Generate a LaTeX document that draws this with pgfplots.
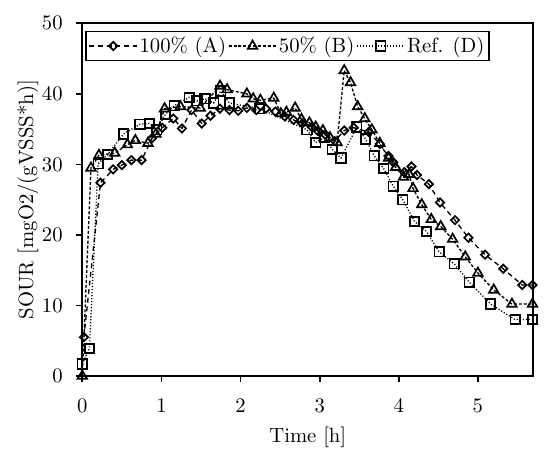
\documentclass[border=0pt]{standalone}
\usepackage{pgfplots}
\pgfplotsset{compat=1.18}
\begin{document}
\begin{tikzpicture}
\begin{axis}[
  name=ax,
  scale only axis,
  width=239.03pt, height=186.93pt,
  xmin=0, xmax=5.7, ymin=0, ymax=50,
  xtick={0,1,2,3,4,5}, ytick={0,10,20,30,40,50},
  tick align=outside, tick pos=left,
  major tick length=3.2pt,
  axis line style={line width=1pt},
  every tick/.style={black, line width=0.9pt},
  /pgf/number format/assume math mode=true,
  ticklabel style={font=\fontsize{10.95}{13}\selectfont},
  label style={font=\fontsize{10.95}{13}\selectfont},
  xticklabel style={yshift=-5.3pt},
  yticklabel style={xshift=-3.7pt},
  xlabel={Time [h]},
  ylabel={SOUR [mgO2/(gVSSS*h)]},
  xlabel style={at={(axis description cs:0.5,-0.173)}, anchor=center},
  ylabel style={at={(axis description cs:-0.1204,0.5)}, anchor=center},
  clip=false,
  legend columns=3,
  legend style={at={(axis description cs:0.006,0.979)}, anchor=north west,
    draw=black, line width=0.9pt, inner sep=1.5pt,
    font=\fontsize{10.95}{13}\selectfont,
    nodes={inner ysep=1.3pt, inner xsep=0.9pt}, column sep=0pt},
  legend image code/.code={\draw[mark repeat=2,mark phase=2] plot coordinates {(0pt,0pt)(12.7pt,0pt)(25.4pt,0pt)};},
]
\addplot[black, line width=0.7pt, dash pattern=on 2.6pt off 2pt,
  mark=square, mark size=1.55pt, mark options={rotate=45, solid, fill=white, line width=0.9pt}]
  coordinates {
(0.02,5.5) (0.23,27.4) (0.39,29.3) (0.50,29.9) (0.62,30.6) (0.75,30.6)
(0.88,33.7) (1.01,35.2) (1.15,36.5) (1.26,35.1) (1.38,37.7) (1.51,35.8)
(1.62,36.9) (1.74,37.9) (1.86,37.7) (1.97,37.6) (2.08,38.0) (2.20,37.7)
(2.32,37.9) (2.44,37.5) (2.56,36.8) (2.67,36.3) (2.78,35.8) (2.90,35.3)
(2.98,34.7) (3.07,34.2) (3.19,33.3) (3.31,34.8) (3.43,35.2) (3.62,34.6)
(3.76,32.9) (3.87,31.2) (3.93,30.3) (4.07,28.9) (4.16,29.7) (4.23,28.5)
(4.38,27.2) (4.52,24.6) (4.71,22.1) (4.88,19.6) (5.09,17.2) (5.32,15.2)
(5.56,12.9) (5.69,12.9)
  };
\addlegendentry{100\% (A)}
\addplot[black, line width=0.7pt, dash pattern=on 1.6pt off 1pt,
  mark=triangle, mark size=2.9pt, mark options={solid, fill=white, line width=0.9pt}]
  coordinates {
(0,0) (0.11,29.5) (0.21,31.3) (0.41,31.6) (0.57,32.8) (0.67,33.4)
(0.83,33.0) (0.93,34.3) (1.04,37.9) (1.24,38.2) (1.49,38.0) (1.74,41.1)
(1.83,40.6) (2.08,40.0) (2.16,39.3) (2.25,39.1) (2.42,39.4) (2.51,37.2)
(2.58,37.4) (2.69,38.0) (2.77,36.4) (2.87,35.9) (2.95,35.3) (3.04,34.8)
(3.13,33.8) (3.22,33.1) (3.31,43.3) (3.39,41.6) (3.48,38.2) (3.57,36.5)
(3.66,34.9) (3.76,33.0) (3.87,30.9) (3.96,29.6) (4.06,28.2) (4.13,28.6)
(4.18,26.6) (4.29,24.3) (4.41,22.2) (4.53,21.2) (4.68,19.4) (4.84,16.9)
(5.00,14.6) (5.20,12.2) (5.43,10.2) (5.69,10.2)
  };
\addlegendentry{50\% (B)}
\addplot[black, line width=0.7pt, dash pattern=on 0.6pt off 1pt,
  mark=square, mark size=2.5pt, mark options={solid, fill=white, line width=0.9pt}]
  coordinates {
(0,1.7) (0.09,3.9) (0.20,30.1) (0.32,31.4) (0.52,34.3) (0.73,35.7)
(0.85,35.8) (0.94,34.9) (1.05,37.1) (1.16,38.3) (1.35,39.5) (1.45,39.0)
(1.55,39.3) (1.66,38.7) (1.75,40.4) (1.86,38.7) (2.24,37.9) (2.84,34.9)
(2.95,33.1) (3.06,33.8) (3.16,32.1) (3.27,30.9) (3.47,35.3) (3.58,33.6)
(3.69,31.2) (3.81,29.4) (3.93,26.9) (4.05,25.0) (4.20,21.9) (4.35,20.5)
(4.51,17.6) (4.70,15.9) (4.89,13.3) (5.16,10.2) (5.47,8.0) (5.69,8.0)
  };
\addlegendentry{Ref. (D)}
\end{axis}
\path (ax.south west) ++(-43.62pt,-42.93pt) rectangle ++(291.5pt,242.21pt);
\end{tikzpicture}
\end{document}
